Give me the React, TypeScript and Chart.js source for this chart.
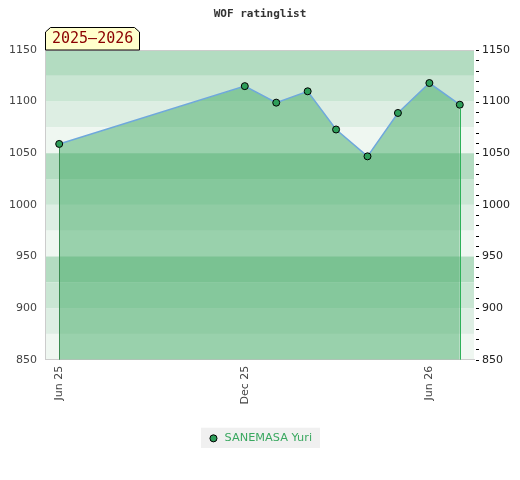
import React, { useEffect, useRef } from "react";
import { Chart, registerables } from "chart.js";

Chart.register(...registerables);

const TITLE = "WOF ratinglist";
const SEASON_LABEL = "2025–2026";
const SERIES_NAME = "SANEMASA Yuri";
const DATES = [
  "2025-06-01",
  "2025-12-01",
  "2026-01-01",
  "2026-02-01",
  "2026-03-01",
  "2026-04-01",
  "2026-05-01",
  "2026-06-01",
  "2026-07-01",
];
const RATINGS = [1059, 1115, 1099, 1110, 1073, 1047, 1089, 1118, 1097];
const X_TICK_DATES = ["2025-06-01", "2025-12-01", "2026-06-01"];
const X_TICK_LABELS = ["Jun 25", "Dec 25", "Jun 26"];
const X_RANGE = ["2025-05-18", "2026-07-15"];
const Y_MIN = 850;
const Y_MAX = 1150;
const Y_MAJOR = 50;
const Y_MINOR = 10;
const BAND = 25;
const BAND_COLORS = ["#b3dcc1", "#c9e6d3", "#ddeee3", "#eff7f1"];

const DAY = 86400000;
const BASE = Date.UTC(2025, 0, 1);
const toDay = (s: string) => (Date.parse(s + "T00:00:00Z") - BASE) / DAY;

const FONT = "'DejaVu Sans', sans-serif";
const MONO = "'DejaVu Sans Mono', monospace";

const decorPlugin = {
  id: "decor",
  beforeDraw(chart: any) {
    const { ctx, chartArea } = chart;
    const y = chart.scales.y;
    ctx.save();
    for (let v = Y_MAX, i = 0; v > Y_MIN; v -= BAND, i++) {
      const y1 = y.getPixelForValue(v);
      const y2 = y.getPixelForValue(v - BAND);
      ctx.fillStyle = BAND_COLORS[i % BAND_COLORS.length];
      ctx.fillRect(chartArea.left, y1, chartArea.right - chartArea.left, y2 - y1);
    }
    // legend background
    const lg = chart.legend;
    if (lg && lg.legendHitBoxes && lg.legendHitBoxes.length) {
      const hb = lg.legendHitBoxes[0];
      ctx.fillStyle = "#f0f0f0";
      ctx.fillRect(hb.left - 7, hb.top - 5, hb.width + 15, hb.height + 9);
    }
    ctx.restore();
  },
  afterDatasetsDraw(chart: any) {
    const { ctx, chartArea } = chart;
    const meta = chart.getDatasetMeta(0);
    const pts = meta.data;
    if (!pts.length) return;
    ctx.save();
    const first = pts[0];
    const last = pts[pts.length - 1];
    ctx.lineWidth = 1;
    ctx.strokeStyle = "#3a8a50";
    ctx.beginPath();
    ctx.moveTo(Math.round(first.x) + 0.5, first.y + 4);
    ctx.lineTo(Math.round(first.x) + 0.5, chartArea.bottom);
    ctx.stroke();
    ctx.strokeStyle = "#2fb15a";
    ctx.beginPath();
    ctx.moveTo(Math.round(last.x) + 0.5, last.y + 4);
    ctx.lineTo(Math.round(last.x) + 0.5, chartArea.bottom);
    ctx.stroke();
    ctx.restore();
  },
  afterDraw(chart: any) {
    const { ctx, chartArea } = chart;
    ctx.save();
    // top border
    ctx.strokeStyle = "#cccccc";
    ctx.lineWidth = 1;
    ctx.beginPath();
    ctx.moveTo(chartArea.left, chartArea.top + 0.5);
    ctx.lineTo(chartArea.right, chartArea.top + 0.5);
    ctx.stroke();
    // minor ticks on right axis
    const yr = chart.scales.yRight;
    ctx.strokeStyle = "#000";
    for (const t of yr.ticks) {
      const py = Math.round(yr.getPixelForValue(t.value)) + 0.5;
      ctx.beginPath();
      ctx.moveTo(chartArea.right + 2, py);
      ctx.lineTo(chartArea.right + 5, py);
      ctx.stroke();
    }
    // season tag
    const L = chartArea.left;
    const B = chartArea.top;
    const R = L + 95;
    const T = B - 23;
    ctx.beginPath();
    ctx.moveTo(L + 0.5, B);
    ctx.lineTo(L + 0.5, T + 5);
    ctx.lineTo(L + 5.5, T + 0.5);
    ctx.lineTo(R - 5.5, T + 0.5);
    ctx.lineTo(R - 0.5, T + 5);
    ctx.lineTo(R - 0.5, B);
    ctx.closePath();
    ctx.fillStyle = "#ffffcc";
    ctx.fill();
    ctx.strokeStyle = "#000";
    ctx.stroke();
    ctx.fillStyle = "#8b0000";
    ctx.font = "15px " + MONO;
    ctx.textBaseline = "middle";
    ctx.textAlign = "left";
    ctx.fillText(SEASON_LABEL, L + 7, B - 11);
    ctx.restore();
  },
};

export default function App() {
  const ref = useRef<HTMLCanvasElement>(null);
  useEffect(() => {
    if (!ref.current) return;
    const tickDays = X_TICK_DATES.map(toDay);
    const chart = new Chart(ref.current, {
      type: "line",
      data: {
        datasets: [
          {
            label: SERIES_NAME,
            data: DATES.map((d, i) => ({ x: toDay(d), y: RATINGS[i] })),
            borderColor: "#6fa8dc",
            borderWidth: 1.5,
            backgroundColor: "rgba(58,166,94,0.47)",
            fill: "start",
            pointRadius: 3.5,
            pointBackgroundColor: "#2e9e5a",
            pointBorderColor: "#000",
            pointBorderWidth: 1,
            tension: 0,
          } as any,
        ],
      },
      options: {
        responsive: false,
        animation: false,
        layout: { padding: { left: 0, right: 0, top: 0, bottom: 26 } },
        scales: {
          x: {
            type: "linear",
            min: toDay(X_RANGE[0]),
            max: toDay(X_RANGE[1]),
            afterBuildTicks: (s: any) => {
              s.ticks = tickDays.map((v) => ({ value: v }));
            },
            afterFit: (s: any) => {
              s.height = 63;
            },
            ticks: {
              autoSkip: false,
              minRotation: 90,
              maxRotation: 90,
              padding: 6,
              color: "#444",
              font: { family: FONT, size: 11 },
              callback: (v: any) => {
                const i = tickDays.indexOf(Number(v));
                return i >= 0 ? X_TICK_LABELS[i] : "";
              },
            },
            grid: { display: false, drawTicks: false },
            border: { display: true, color: "#cccccc" },
          },
          y: {
            position: "left",
            min: Y_MIN,
            max: Y_MAX,
            afterFit: (s: any) => {
              s.width = 45;
            },
            ticks: {
              stepSize: Y_MAJOR,
              padding: 8,
              color: "#444",
              font: { family: FONT, size: 11 },
              callback: (v: any) => String(v),
            },
            grid: { display: false, drawTicks: false },
            border: { display: true, color: "#cccccc" },
          },
          yRight: {
            position: "right",
            min: Y_MIN,
            max: Y_MAX,
            afterFit: (s: any) => {
              s.width = 46;
            },
            ticks: {
              stepSize: Y_MINOR,
              autoSkip: false,
              padding: 8,
              color: "#222",
              font: { family: FONT, size: 11 },
              callback: (v: any) => (Number(v) % Y_MAJOR === 0 ? String(v) : ""),
            },
            grid: { display: false, drawTicks: false },
            border: { display: false },
          },
        },
        plugins: {
          title: {
            display: true,
            text: TITLE,
            color: "#333",
            font: { family: MONO, size: 11, weight: "bold" },
            padding: { top: 8, bottom: 28.8 },
          },
          legend: {
            display: true,
            position: "bottom",
            labels: {
              usePointStyle: true,
              boxWidth: 11,
              boxHeight: 5,
              color: "#3aa860",
              padding: 10,
              font: { family: FONT, size: 11.3 },
            },
          },
          tooltip: { enabled: false },
        },
      } as any,
      plugins: [decorPlugin],
    });
    return () => chart.destroy();
  }, []);
  return (
    <div style={{ position: "fixed", left: 0, top: 0, width: 520, height: 480, background: "#fff" }}>
      <canvas ref={ref} width={520} height={480} style={{ width: 520, height: 480 }} />
    </div>
  );
}
